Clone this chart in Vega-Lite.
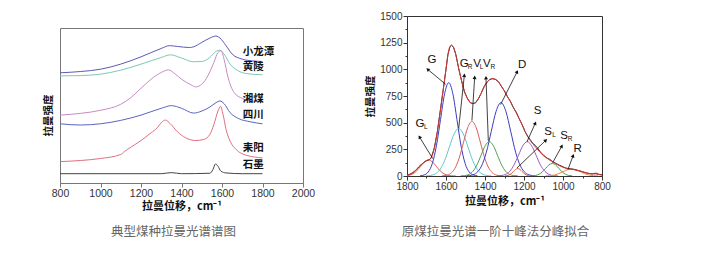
{
  "$schema": "https://vega.github.io/schema/vega-lite/v6.json",
  "background": "white",
  "padding": {"left": 42, "top": 10, "right": 5, "bottom": 5},
  "config": {
    "font": "Liberation Sans",
    "view": {"stroke": "transparent"},
    "axis": {
      "grid": false,
      "labelFlush": false,
      "labelOverlap": false,
      "domainColor": "#555",
      "tickColor": "#555",
      "labelFont": "Liberation Sans",
      "labelColor": "#333",
      "titleFont": "Noto Sans CJK SC",
      "titleColor": "#111",
      "titleFontWeight": "bold"
    }
  },
  "datasets": {
    "raman": [
      {"coal": "小龙潭", "shift": 800, "intensity": 71.1},
      {"coal": "小龙潭", "shift": 900, "intensity": 71.9},
      {"coal": "小龙潭", "shift": 1000, "intensity": 73.4},
      {"coal": "小龙潭", "shift": 1100, "intensity": 76.7},
      {"coal": "小龙潭", "shift": 1200, "intensity": 81.4},
      {"coal": "小龙潭", "shift": 1300, "intensity": 86.8},
      {"coal": "小龙潭", "shift": 1340, "intensity": 88.6},
      {"coal": "小龙潭", "shift": 1380, "intensity": 88.1},
      {"coal": "小龙潭", "shift": 1440, "intensity": 87.4},
      {"coal": "小龙潭", "shift": 1460, "intensity": 87.9},
      {"coal": "小龙潭", "shift": 1500, "intensity": 90.7},
      {"coal": "小龙潭", "shift": 1540, "intensity": 93.5},
      {"coal": "小龙潭", "shift": 1570, "intensity": 94.8},
      {"coal": "小龙潭", "shift": 1590, "intensity": 93.5},
      {"coal": "小龙潭", "shift": 1620, "intensity": 88.6},
      {"coal": "小龙潭", "shift": 1650, "intensity": 83.2},
      {"coal": "小龙潭", "shift": 1700, "intensity": 79.9},
      {"coal": "小龙潭", "shift": 1750, "intensity": 78.8},
      {"coal": "小龙潭", "shift": 1800, "intensity": 78.4},

      {"coal": "黄陵", "shift": 800, "intensity": 69.1},
      {"coal": "黄陵", "shift": 900, "intensity": 69.3},
      {"coal": "黄陵", "shift": 1000, "intensity": 70.2},
      {"coal": "黄陵", "shift": 1100, "intensity": 72.8},
      {"coal": "黄陵", "shift": 1200, "intensity": 76.7},
      {"coal": "黄陵", "shift": 1300, "intensity": 81.0},
      {"coal": "黄陵", "shift": 1345, "intensity": 82.7},
      {"coal": "黄陵", "shift": 1400, "intensity": 80.6},
      {"coal": "黄陵", "shift": 1460, "intensity": 78.2},
      {"coal": "黄陵", "shift": 1500, "intensity": 78.4},
      {"coal": "黄陵", "shift": 1540, "intensity": 81.0},
      {"coal": "黄陵", "shift": 1570, "intensity": 84.9},
      {"coal": "黄陵", "shift": 1590, "intensity": 85.7},
      {"coal": "黄陵", "shift": 1610, "intensity": 83.2},
      {"coal": "黄陵", "shift": 1640, "intensity": 76.7},
      {"coal": "黄陵", "shift": 1680, "intensity": 72.4},
      {"coal": "黄陵", "shift": 1720, "intensity": 70.6},
      {"coal": "黄陵", "shift": 1800, "intensity": 69.8},

      {"coal": "湘煤", "shift": 800, "intensity": 43.8},
      {"coal": "湘煤", "shift": 900, "intensity": 44.9},
      {"coal": "湘煤", "shift": 1000, "intensity": 46.9},
      {"coal": "湘煤", "shift": 1100, "intensity": 50.8},
      {"coal": "湘煤", "shift": 1150, "intensity": 55.1},
      {"coal": "湘煤", "shift": 1200, "intensity": 61.1},
      {"coal": "湘煤", "shift": 1250, "intensity": 67.0},
      {"coal": "湘煤", "shift": 1300, "intensity": 71.3},
      {"coal": "湘煤", "shift": 1335, "intensity": 73.0},
      {"coal": "湘煤", "shift": 1370, "intensity": 70.2},
      {"coal": "湘煤", "shift": 1400, "intensity": 67.0},
      {"coal": "湘煤", "shift": 1450, "intensity": 63.1},
      {"coal": "湘煤", "shift": 1470, "intensity": 62.0},
      {"coal": "湘煤", "shift": 1500, "intensity": 63.7},
      {"coal": "湘煤", "shift": 1530, "intensity": 69.1},
      {"coal": "湘煤", "shift": 1560, "intensity": 77.8},
      {"coal": "湘煤", "shift": 1580, "intensity": 84.2},
      {"coal": "湘煤", "shift": 1595, "intensity": 85.3},
      {"coal": "湘煤", "shift": 1610, "intensity": 79.9},
      {"coal": "湘煤", "shift": 1630, "intensity": 68.0},
      {"coal": "湘煤", "shift": 1660, "intensity": 58.3},
      {"coal": "湘煤", "shift": 1700, "intensity": 54.6},
      {"coal": "湘煤", "shift": 1750, "intensity": 52.9},
      {"coal": "湘煤", "shift": 1800, "intensity": 52.5},

      {"coal": "四川", "shift": 800, "intensity": 38.2},
      {"coal": "四川", "shift": 900, "intensity": 37.4},
      {"coal": "四川", "shift": 1000, "intensity": 38.2},
      {"coal": "四川", "shift": 1100, "intensity": 40.4},
      {"coal": "四川", "shift": 1200, "intensity": 43.8},
      {"coal": "四川", "shift": 1300, "intensity": 48.2},
      {"coal": "四川", "shift": 1350, "intensity": 49.9},
      {"coal": "四川", "shift": 1400, "intensity": 48.2},
      {"coal": "四川", "shift": 1460, "intensity": 45.1},
      {"coal": "四川", "shift": 1500, "intensity": 46.4},
      {"coal": "四川", "shift": 1540, "intensity": 49.0},
      {"coal": "四川", "shift": 1570, "intensity": 51.8},
      {"coal": "四川", "shift": 1590, "intensity": 52.9},
      {"coal": "四川", "shift": 1610, "intensity": 51.2},
      {"coal": "四川", "shift": 1640, "intensity": 45.4},
      {"coal": "四川", "shift": 1680, "intensity": 41.7},
      {"coal": "四川", "shift": 1740, "intensity": 39.5},
      {"coal": "四川", "shift": 1800, "intensity": 38.2},

      {"coal": "耒阳", "shift": 800, "intensity": 13.8},
      {"coal": "耒阳", "shift": 900, "intensity": 14.5},
      {"coal": "耒阳", "shift": 1000, "intensity": 15.8},
      {"coal": "耒阳", "shift": 1100, "intensity": 18.4},
      {"coal": "耒阳", "shift": 1120, "intensity": 20.5},
      {"coal": "耒阳", "shift": 1150, "intensity": 23.1},
      {"coal": "耒阳", "shift": 1200, "intensity": 27.4},
      {"coal": "耒阳", "shift": 1250, "intensity": 32.4},
      {"coal": "耒阳", "shift": 1280, "intensity": 35.6},
      {"coal": "耒阳", "shift": 1300, "intensity": 38.9},
      {"coal": "耒阳", "shift": 1320, "intensity": 40.6},
      {"coal": "耒阳", "shift": 1345, "intensity": 38.2},
      {"coal": "耒阳", "shift": 1380, "intensity": 33.0},
      {"coal": "耒阳", "shift": 1420, "intensity": 29.2},
      {"coal": "耒阳", "shift": 1470, "intensity": 27.4},
      {"coal": "耒阳", "shift": 1510, "intensity": 28.1},
      {"coal": "耒阳", "shift": 1540, "intensity": 31.3},
      {"coal": "耒阳", "shift": 1560, "intensity": 37.8},
      {"coal": "耒阳", "shift": 1580, "intensity": 46.4},
      {"coal": "耒阳", "shift": 1593, "intensity": 49.5},
      {"coal": "耒阳", "shift": 1605, "intensity": 44.3},
      {"coal": "耒阳", "shift": 1620, "intensity": 34.6},
      {"coal": "耒阳", "shift": 1640, "intensity": 27.0},
      {"coal": "耒阳", "shift": 1670, "intensity": 21.6},
      {"coal": "耒阳", "shift": 1720, "intensity": 17.9},
      {"coal": "耒阳", "shift": 1800, "intensity": 16.2},

      {"coal": "石墨", "shift": 800, "intensity": 6.0},
      {"coal": "石墨", "shift": 1300, "intensity": 6.0},
      {"coal": "石墨", "shift": 1350, "intensity": 6.7},
      {"coal": "石墨", "shift": 1400, "intensity": 6.0},
      {"coal": "石墨", "shift": 1540, "intensity": 6.3},
      {"coal": "石墨", "shift": 1555, "intensity": 8.6},
      {"coal": "石墨", "shift": 1568, "intensity": 12.3},
      {"coal": "石墨", "shift": 1580, "intensity": 10.8},
      {"coal": "石墨", "shift": 1595, "intensity": 7.6},
      {"coal": "石墨", "shift": 1620, "intensity": 6.5},
      {"coal": "石墨", "shift": 1700, "intensity": 6.0},
      {"coal": "石墨", "shift": 1800, "intensity": 6.0}
    ],
    "coalLabels": [
      {"coal": "小龙潭", "shift": 1702, "intensity": 84.3},
      {"coal": "黄陵", "shift": 1702, "intensity": 74.6},
      {"coal": "湘煤", "shift": 1702, "intensity": 54.2},
      {"coal": "四川", "shift": 1702, "intensity": 43.9},
      {"coal": "耒阳", "shift": 1702, "intensity": 22.6},
      {"coal": "石墨", "shift": 1702, "intensity": 11.6}
    ],
    "bands": [
      {"band": "GL", "shift": 1550, "intensity": 0.2},
      {"band": "GL", "shift": 1570, "intensity": 1.7},
      {"band": "GL", "shift": 1590, "intensity": 6.6},
      {"band": "GL", "shift": 1610, "intensity": 20.3},
      {"band": "GL", "shift": 1630, "intensity": 48.7},
      {"band": "GL", "shift": 1650, "intensity": 91.0},
      {"band": "GL", "shift": 1670, "intensity": 132.4},
      {"band": "GL", "shift": 1690, "intensity": 150},
      {"band": "GL", "shift": 1710, "intensity": 132.4},
      {"band": "GL", "shift": 1730, "intensity": 91.0},
      {"band": "GL", "shift": 1750, "intensity": 48.7},
      {"band": "GL", "shift": 1770, "intensity": 20.3},
      {"band": "GL", "shift": 1790, "intensity": 6.6},
      {"band": "GL", "shift": 1800, "intensity": 3.4},

      {"band": "G", "shift": 1439, "intensity": 1.9},
      {"band": "G", "shift": 1460, "intensity": 9.7},
      {"band": "G", "shift": 1481, "intensity": 38},
      {"band": "G", "shift": 1502, "intensity": 118},
      {"band": "G", "shift": 1523, "intensity": 284},
      {"band": "G", "shift": 1544, "intensity": 531},
      {"band": "G", "shift": 1565, "intensity": 772},
      {"band": "G", "shift": 1586, "intensity": 875},
      {"band": "G", "shift": 1607, "intensity": 772},
      {"band": "G", "shift": 1628, "intensity": 531},
      {"band": "G", "shift": 1649, "intensity": 284},
      {"band": "G", "shift": 1670, "intensity": 118},
      {"band": "G", "shift": 1691, "intensity": 38},
      {"band": "G", "shift": 1712, "intensity": 9.7},
      {"band": "G", "shift": 1733, "intensity": 1.9},

      {"band": "GR", "shift": 1367, "intensity": 1.0},
      {"band": "GR", "shift": 1391, "intensity": 4.9},
      {"band": "GR", "shift": 1415, "intensity": 19.5},
      {"band": "GR", "shift": 1439, "intensity": 60.2},
      {"band": "GR", "shift": 1463, "intensity": 144.5},
      {"band": "GR", "shift": 1487, "intensity": 270},
      {"band": "GR", "shift": 1511, "intensity": 393},
      {"band": "GR", "shift": 1535, "intensity": 445},
      {"band": "GR", "shift": 1559, "intensity": 393},
      {"band": "GR", "shift": 1583, "intensity": 270},
      {"band": "GR", "shift": 1607, "intensity": 144.5},
      {"band": "GR", "shift": 1631, "intensity": 60.2},
      {"band": "GR", "shift": 1655, "intensity": 19.5},
      {"band": "GR", "shift": 1679, "intensity": 4.9},
      {"band": "GR", "shift": 1703, "intensity": 1.0},

      {"band": "VL", "shift": 1313, "intensity": 1.1},
      {"band": "VL", "shift": 1335, "intensity": 5.7},
      {"band": "VL", "shift": 1357, "intensity": 22.5},
      {"band": "VL", "shift": 1379, "intensity": 69.3},
      {"band": "VL", "shift": 1401, "intensity": 166},
      {"band": "VL", "shift": 1423, "intensity": 310.5},
      {"band": "VL", "shift": 1445, "intensity": 452},
      {"band": "VL", "shift": 1467, "intensity": 512},
      {"band": "VL", "shift": 1489, "intensity": 452},
      {"band": "VL", "shift": 1511, "intensity": 310.5},
      {"band": "VL", "shift": 1533, "intensity": 166},
      {"band": "VL", "shift": 1555, "intensity": 69.3},
      {"band": "VL", "shift": 1577, "intensity": 22.5},
      {"band": "VL", "shift": 1599, "intensity": 5.7},
      {"band": "VL", "shift": 1621, "intensity": 1.1},

      {"band": "VR", "shift": 1231, "intensity": 0.7},
      {"band": "VR", "shift": 1252, "intensity": 3.6},
      {"band": "VR", "shift": 1273, "intensity": 14.1},
      {"band": "VR", "shift": 1294, "intensity": 43.6},
      {"band": "VR", "shift": 1315, "intensity": 104.6},
      {"band": "VR", "shift": 1336, "intensity": 195},
      {"band": "VR", "shift": 1357, "intensity": 284},
      {"band": "VR", "shift": 1378, "intensity": 322},
      {"band": "VR", "shift": 1399, "intensity": 284},
      {"band": "VR", "shift": 1420, "intensity": 195},
      {"band": "VR", "shift": 1441, "intensity": 104.6},
      {"band": "VR", "shift": 1462, "intensity": 43.6},
      {"band": "VR", "shift": 1483, "intensity": 14.1},
      {"band": "VR", "shift": 1504, "intensity": 3.6},
      {"band": "VR", "shift": 1525, "intensity": 0.7},

      {"band": "D", "shift": 1143, "intensity": 1.5},
      {"band": "D", "shift": 1168, "intensity": 7.6},
      {"band": "D", "shift": 1193, "intensity": 30.2},
      {"band": "D", "shift": 1218, "intensity": 93.1},
      {"band": "D", "shift": 1243, "intensity": 223},
      {"band": "D", "shift": 1268, "intensity": 417},
      {"band": "D", "shift": 1293, "intensity": 607},
      {"band": "D", "shift": 1318, "intensity": 688},
      {"band": "D", "shift": 1343, "intensity": 607},
      {"band": "D", "shift": 1368, "intensity": 417},
      {"band": "D", "shift": 1393, "intensity": 223},
      {"band": "D", "shift": 1418, "intensity": 93.1},
      {"band": "D", "shift": 1443, "intensity": 30.2},
      {"band": "D", "shift": 1468, "intensity": 7.6},
      {"band": "D", "shift": 1493, "intensity": 1.5},

      {"band": "SL", "shift": 1166, "intensity": 0.8},
      {"band": "SL", "shift": 1177, "intensity": 3.1},
      {"band": "SL", "shift": 1188, "intensity": 9.5},
      {"band": "SL", "shift": 1199, "intensity": 22.7},
      {"band": "SL", "shift": 1210, "intensity": 42.5},
      {"band": "SL", "shift": 1221, "intensity": 61.8},
      {"band": "SL", "shift": 1232, "intensity": 70},
      {"band": "SL", "shift": 1243, "intensity": 61.8},
      {"band": "SL", "shift": 1254, "intensity": 42.5},
      {"band": "SL", "shift": 1265, "intensity": 22.7},
      {"band": "SL", "shift": 1276, "intensity": 9.5},
      {"band": "SL", "shift": 1287, "intensity": 3.1},
      {"band": "SL", "shift": 1298, "intensity": 0.8},

      {"band": "S", "shift": 1026, "intensity": 0.7},
      {"band": "S", "shift": 1048, "intensity": 3.6},
      {"band": "S", "shift": 1071, "intensity": 14.1},
      {"band": "S", "shift": 1093, "intensity": 43.6},
      {"band": "S", "shift": 1116, "intensity": 104.6},
      {"band": "S", "shift": 1138, "intensity": 195},
      {"band": "S", "shift": 1161, "intensity": 284},
      {"band": "S", "shift": 1183, "intensity": 322},
      {"band": "S", "shift": 1206, "intensity": 284},
      {"band": "S", "shift": 1228, "intensity": 195},
      {"band": "S", "shift": 1251, "intensity": 104.6},
      {"band": "S", "shift": 1273, "intensity": 43.6},
      {"band": "S", "shift": 1296, "intensity": 14.1},
      {"band": "S", "shift": 1318, "intensity": 3.6},
      {"band": "S", "shift": 1341, "intensity": 0.7},

      {"band": "SR", "shift": 953, "intensity": 1.3},
      {"band": "SR", "shift": 970, "intensity": 5.2},
      {"band": "SR", "shift": 987, "intensity": 16},
      {"band": "SR", "shift": 1004, "intensity": 38.3},
      {"band": "SR", "shift": 1021, "intensity": 71.6},
      {"band": "SR", "shift": 1038, "intensity": 104.1},
      {"band": "SR", "shift": 1055, "intensity": 118},
      {"band": "SR", "shift": 1072, "intensity": 104.1},
      {"band": "SR", "shift": 1089, "intensity": 71.6},
      {"band": "SR", "shift": 1106, "intensity": 38.3},
      {"band": "SR", "shift": 1123, "intensity": 16},
      {"band": "SR", "shift": 1140, "intensity": 5.2},
      {"band": "SR", "shift": 1157, "intensity": 1.3},

      {"band": "R", "shift": 820, "intensity": 0.7},
      {"band": "R", "shift": 843, "intensity": 2.9},
      {"band": "R", "shift": 865, "intensity": 8.9},
      {"band": "R", "shift": 888, "intensity": 21.4},
      {"band": "R", "shift": 910, "intensity": 40},
      {"band": "R", "shift": 933, "intensity": 58.2},
      {"band": "R", "shift": 955, "intensity": 66},
      {"band": "R", "shift": 978, "intensity": 58.2},
      {"band": "R", "shift": 1000, "intensity": 40},
      {"band": "R", "shift": 1023, "intensity": 21.4},
      {"band": "R", "shift": 1045, "intensity": 8.9},
      {"band": "R", "shift": 1068, "intensity": 2.9},
      {"band": "R", "shift": 1090, "intensity": 0.7}
    ],
    "measured": [
      {"shift": 1800, "intensity": 14}, {"shift": 1790, "intensity": 12}, {"shift": 1780, "intensity": 22},
      {"shift": 1770, "intensity": 32}, {"shift": 1760, "intensity": 46}, {"shift": 1750, "intensity": 62},
      {"shift": 1740, "intensity": 84}, {"shift": 1730, "intensity": 102}, {"shift": 1720, "intensity": 118},
      {"shift": 1710, "intensity": 132}, {"shift": 1700, "intensity": 143}, {"shift": 1690, "intensity": 150},
      {"shift": 1680, "intensity": 160}, {"shift": 1675, "intensity": 175}, {"shift": 1660, "intensity": 262},
      {"shift": 1645, "intensity": 408}, {"shift": 1630, "intensity": 602}, {"shift": 1615, "intensity": 798},
      {"shift": 1600, "intensity": 1002}, {"shift": 1590, "intensity": 1138}, {"shift": 1580, "intensity": 1212},
      {"shift": 1572, "intensity": 1226}, {"shift": 1562, "intensity": 1208}, {"shift": 1550, "intensity": 1142},
      {"shift": 1535, "intensity": 1008}, {"shift": 1520, "intensity": 892}, {"shift": 1505, "intensity": 788},
      {"shift": 1490, "intensity": 727}, {"shift": 1475, "intensity": 686}, {"shift": 1462, "intensity": 680},
      {"shift": 1450, "intensity": 684}, {"shift": 1435, "intensity": 722}, {"shift": 1420, "intensity": 773},
      {"shift": 1405, "intensity": 837}, {"shift": 1390, "intensity": 879}, {"shift": 1375, "intensity": 906},
      {"shift": 1360, "intensity": 913}, {"shift": 1345, "intensity": 904}, {"shift": 1330, "intensity": 882},
      {"shift": 1315, "intensity": 838}, {"shift": 1300, "intensity": 797}, {"shift": 1285, "intensity": 743},
      {"shift": 1270, "intensity": 701}, {"shift": 1255, "intensity": 643}, {"shift": 1240, "intensity": 598},
      {"shift": 1225, "intensity": 537}, {"shift": 1210, "intensity": 484}, {"shift": 1195, "intensity": 418},
      {"shift": 1180, "intensity": 370}, {"shift": 1170, "intensity": 345}, {"shift": 1160, "intensity": 318},
      {"shift": 1150, "intensity": 300}, {"shift": 1140, "intensity": 280}, {"shift": 1130, "intensity": 262},
      {"shift": 1120, "intensity": 235}, {"shift": 1110, "intensity": 212}, {"shift": 1100, "intensity": 196},
      {"shift": 1090, "intensity": 180}, {"shift": 1080, "intensity": 166}, {"shift": 1070, "intensity": 158},
      {"shift": 1060, "intensity": 146}, {"shift": 1050, "intensity": 130}, {"shift": 1040, "intensity": 122},
      {"shift": 1030, "intensity": 112}, {"shift": 1020, "intensity": 102}, {"shift": 1010, "intensity": 95},
      {"shift": 1000, "intensity": 86}, {"shift": 990, "intensity": 78}, {"shift": 980, "intensity": 72},
      {"shift": 970, "intensity": 70}, {"shift": 960, "intensity": 66}, {"shift": 950, "intensity": 64},
      {"shift": 940, "intensity": 60}, {"shift": 930, "intensity": 56}, {"shift": 920, "intensity": 50},
      {"shift": 910, "intensity": 46}, {"shift": 900, "intensity": 40}, {"shift": 890, "intensity": 34},
      {"shift": 880, "intensity": 30}, {"shift": 870, "intensity": 25}, {"shift": 860, "intensity": 22},
      {"shift": 850, "intensity": 20}, {"shift": 840, "intensity": 24}, {"shift": 830, "intensity": 26},
      {"shift": 820, "intensity": 18}, {"shift": 810, "intensity": 14}, {"shift": 800, "intensity": 12}
    ],
    "fit": [
      {"shift": 1800, "intensity": 8}, {"shift": 1780, "intensity": 20}, {"shift": 1760, "intensity": 45},
      {"shift": 1740, "intensity": 85}, {"shift": 1720, "intensity": 118}, {"shift": 1700, "intensity": 145},
      {"shift": 1690, "intensity": 150}, {"shift": 1675, "intensity": 175}, {"shift": 1660, "intensity": 260},
      {"shift": 1645, "intensity": 410}, {"shift": 1630, "intensity": 600}, {"shift": 1615, "intensity": 800},
      {"shift": 1600, "intensity": 1000}, {"shift": 1590, "intensity": 1140}, {"shift": 1580, "intensity": 1210},
      {"shift": 1572, "intensity": 1225}, {"shift": 1562, "intensity": 1210}, {"shift": 1550, "intensity": 1140},
      {"shift": 1535, "intensity": 1010}, {"shift": 1520, "intensity": 890}, {"shift": 1505, "intensity": 790},
      {"shift": 1490, "intensity": 725}, {"shift": 1475, "intensity": 688}, {"shift": 1462, "intensity": 678},
      {"shift": 1450, "intensity": 685}, {"shift": 1435, "intensity": 720}, {"shift": 1420, "intensity": 775},
      {"shift": 1405, "intensity": 835}, {"shift": 1390, "intensity": 880}, {"shift": 1375, "intensity": 905},
      {"shift": 1360, "intensity": 912}, {"shift": 1345, "intensity": 905}, {"shift": 1330, "intensity": 880},
      {"shift": 1315, "intensity": 840}, {"shift": 1300, "intensity": 795}, {"shift": 1285, "intensity": 745},
      {"shift": 1270, "intensity": 698}, {"shift": 1255, "intensity": 645}, {"shift": 1240, "intensity": 595},
      {"shift": 1225, "intensity": 540}, {"shift": 1210, "intensity": 480}, {"shift": 1195, "intensity": 420},
      {"shift": 1180, "intensity": 365}, {"shift": 1165, "intensity": 325}, {"shift": 1150, "intensity": 292},
      {"shift": 1135, "intensity": 258}, {"shift": 1120, "intensity": 228}, {"shift": 1105, "intensity": 198},
      {"shift": 1090, "intensity": 176}, {"shift": 1075, "intensity": 157}, {"shift": 1060, "intensity": 140},
      {"shift": 1045, "intensity": 124}, {"shift": 1030, "intensity": 108}, {"shift": 1015, "intensity": 94},
      {"shift": 1000, "intensity": 82}, {"shift": 985, "intensity": 72}, {"shift": 970, "intensity": 66},
      {"shift": 955, "intensity": 63}, {"shift": 940, "intensity": 58}, {"shift": 925, "intensity": 52},
      {"shift": 910, "intensity": 45}, {"shift": 895, "intensity": 37}, {"shift": 880, "intensity": 29},
      {"shift": 865, "intensity": 23}, {"shift": 850, "intensity": 19}, {"shift": 835, "intensity": 20},
      {"shift": 820, "intensity": 15}, {"shift": 805, "intensity": 10}, {"shift": 800, "intensity": 8}
    ],
    "arrows": [
      {"band": "GL", "shift": 1668, "intensity": 163, "tipShift": 1736, "tipIntensity": 366, "heading": 328},
      {"band": "G", "shift": 1602, "intensity": 860, "tipShift": 1694, "tipIntensity": 1000, "heading": 310},
      {"band": "GR", "shift": 1535, "intensity": 446, "tipShift": 1506, "tipIntensity": 944, "heading": 6},
      {"band": "VL", "shift": 1467, "intensity": 520, "tipShift": 1453, "tipIntensity": 925, "heading": 4},
      {"band": "VR", "shift": 1383, "intensity": 330, "tipShift": 1395, "tipIntensity": 922, "heading": 358},
      {"band": "D", "shift": 1320, "intensity": 670, "tipShift": 1235, "tipIntensity": 978, "heading": 27},
      {"band": "S", "shift": 1185, "intensity": 320, "tipShift": 1142, "tipIntensity": 495, "heading": 24},
      {"band": "SL", "shift": 1236, "intensity": 75, "tipShift": 1088, "tipIntensity": 335, "heading": 46},
      {"band": "SR", "shift": 1053, "intensity": 125, "tipShift": 1006, "tipIntensity": 280, "heading": 29},
      {"band": "R", "shift": 975, "intensity": 60, "tipShift": 948, "tipIntensity": 190, "heading": 21}
    ],
    "bandLetters": [
      {"text": "G", "shift": 1733, "intensity": 485},
      {"text": "G", "shift": 1672, "intensity": 1091},
      {"text": "G", "shift": 1506, "intensity": 1054},
      {"text": "V", "shift": 1441, "intensity": 1054},
      {"text": "V", "shift": 1391, "intensity": 1054},
      {"text": "D", "shift": 1210, "intensity": 1038},
      {"text": "S", "shift": 1130, "intensity": 607},
      {"text": "S", "shift": 1076, "intensity": 412},
      {"text": "S", "shift": 995, "intensity": 378},
      {"text": "R", "shift": 925, "intensity": 255}
    ],
    "bandSubscripts": [
      {"text": "L", "shift": 1704, "intensity": 460},
      {"text": "R", "shift": 1477, "intensity": 1025},
      {"text": "L", "shift": 1417, "intensity": 1025},
      {"text": "R", "shift": 1360, "intensity": 1025},
      {"text": "L", "shift": 1046, "intensity": 385},
      {"text": "R", "shift": 964, "intensity": 350}
    ]
  },
  "spacing": 48,
  "resolve": {"scale": {"color": "independent"}},
  "hconcat": [
    {
      "spacing": 0,
      "vconcat": [
        {
          "width": 243,
          "height": 11,
          "view": {"stroke": "transparent", "strokeWidth": 0},
          "data": {"values": [{}]},
          "mark": {"type": "point", "opacity": 0},
          "encoding": {}
        },
        {
          "width": 243,
          "height": 155,
          "view": {"stroke": "#777"},
          "title": {
            "text": "典型煤种拉曼光谱谱图",
            "orient": "bottom",
            "anchor": "middle",
            "font": "Noto Sans CJK SC",
            "fontSize": 12.5,
            "fontWeight": "normal",
            "color": "#666",
            "offset": 14,
            "dx": -8
          },
          "layer": [
            {
              "data": {"name": "raman"},
              "mark": {"type": "line", "interpolate": "monotone", "strokeWidth": 1},
              "encoding": {
                "x": {
                  "field": "shift", "type": "quantitative",
                  "scale": {"domain": [800, 2000], "nice": false},
                  "axis": {
                    "values": [800, 900, 1000, 1100, 1200, 1300, 1400, 1500, 1600, 1700, 1800, 1900, 2000],
                    "labelExpr": "datum.value % 200 === 0 ? datum.label : ''",
                    "format": "d",
                    "tickSize": {"condition": {"test": "datum.value % 200 === 0", "value": 4}, "value": 2},
                    "labelFontSize": 10.5,
                    "labelPadding": 1,
                    "domainColor": "#777",
                    "tickColor": "#777",
                    "title": "拉曼位移，cm⁻¹",
                    "titleFontSize": 11,
                    "titlePadding": 2
                  }
                },
                "y": {
                  "field": "intensity", "type": "quantitative",
                  "scale": {"domain": [0, 100], "nice": false},
                  "axis": {
                    "labels": false, "ticks": false, "domain": false,
                    "title": "拉曼强度",
                    "titleFontSize": 10.5,
                    "titleBaseline": "middle",
                    "titleX": -12,
                    "titleY": 87
                  }
                },
                "color": {
                  "field": "coal", "type": "nominal",
                  "scale": {
                    "domain": ["小龙潭", "黄陵", "湘煤", "四川", "耒阳", "石墨"],
                    "range": ["#5a5ab4", "#7cc8b8", "#c98ac8", "#5a64c0", "#e07080", "#444444"]
                  },
                  "legend": null
                }
              }
            },
            {
              "data": {"name": "coalLabels"},
              "mark": {"type": "text", "align": "left", "baseline": "middle", "font": "Noto Sans CJK SC", "fontSize": 10.5, "fontWeight": "bold", "color": "#111"},
              "encoding": {
                "x": {"field": "shift", "type": "quantitative"},
                "y": {"field": "intensity", "type": "quantitative"},
                "text": {"field": "coal"}
              }
            }
          ]
        }
      ]
    },
    {
      "width": 195,
      "height": 160,
      "view": {"stroke": "#333"},
      "title": {
        "text": "原煤拉曼光谱一阶十峰法分峰拟合",
        "orient": "bottom",
        "anchor": "middle",
        "font": "Noto Sans CJK SC",
        "fontSize": 12.5,
        "fontWeight": "normal",
        "color": "#666",
        "offset": 20,
        "dx": -9
      },
      "encoding": {
        "x": {
          "field": "shift", "type": "quantitative",
          "scale": {"domain": [800, 1800], "reverse": true, "nice": false},
          "axis": {
            "values": [800, 900, 1000, 1100, 1200, 1300, 1400, 1500, 1600, 1700, 1800],
            "labelExpr": "datum.value % 200 === 0 ? datum.label : ''",
            "format": "d",
            "tickSize": {"condition": {"test": "datum.value % 200 === 0", "value": 4}, "value": 2},
            "labelFontSize": 10,
            "labelPadding": 1,
            "domainColor": "#333",
            "tickColor": "#333",
            "title": "拉曼位移，cm⁻¹",
            "titleFontSize": 11,
            "titlePadding": 4
          }
        },
        "y": {
          "field": "intensity", "type": "quantitative",
          "scale": {"domain": [0, 1500], "nice": false},
          "axis": {
            "values": [0, 125, 250, 375, 500, 625, 750, 875, 1000, 1125, 1250, 1375, 1500],
            "labelExpr": "datum.value % 250 === 0 ? datum.label : ''",
            "format": "d",
            "tickSize": {"condition": {"test": "datum.value % 250 === 0", "value": 4}, "value": 2},
            "labelFontSize": 10,
            "labelPadding": 1,
            "domainColor": "#333",
            "tickColor": "#333",
            "title": "拉曼强度",
            "titleFontSize": 10.5,
            "titleBaseline": "middle",
            "titleX": -37,
            "titleY": 80
          }
        }
      },
      "layer": [
        {
          "data": {"name": "bands"},
          "mark": {"type": "line", "interpolate": "monotone", "strokeWidth": 1, "clip": true},
          "encoding": {
            "detail": {"field": "band"},
            "color": {
              "field": "band", "type": "nominal",
              "scale": {
                "domain": ["GL", "G", "GR", "VL", "VR", "D", "SL", "S", "SR", "R"],
                "range": ["#e05a5a", "#3c3cc0", "#5cc8d0", "#e05a5a", "#4aa04a", "#3c3cc0", "#e0603a", "#a05ac0", "#4aa04a", "#f08a3a"]
              },
              "legend": null
            }
          }
        },
        {
          "data": {"name": "measured"},
          "mark": {"type": "line", "strokeWidth": 1, "color": "#222", "clip": true},
          "encoding": {}
        },
        {
          "data": {"name": "fit"},
          "mark": {"type": "line", "interpolate": "monotone", "strokeWidth": 1, "color": "#d83838", "clip": true},
          "encoding": {}
        },
        {
          "data": {"name": "arrows"},
          "mark": {"type": "rule", "strokeWidth": 0.8, "color": "#111"},
          "encoding": {
            "x2": {"field": "tipShift"},
            "y2": {"field": "tipIntensity"}
          }
        },
        {
          "data": {"name": "arrows"},
          "mark": {"type": "point", "shape": "triangle-up", "filled": true, "size": 16, "opacity": 1, "color": "#111"},
          "encoding": {
            "x": {"field": "tipShift", "type": "quantitative"},
            "y": {"field": "tipIntensity", "type": "quantitative"},
            "angle": {"field": "heading", "type": "quantitative", "scale": null}
          }
        },
        {
          "data": {"name": "bandLetters"},
          "mark": {"type": "text", "font": "Liberation Sans", "fontSize": 11.5, "color": "#111", "align": "center", "baseline": "middle"},
          "encoding": {"text": {"field": "text"}}
        },
        {
          "data": {"name": "bandSubscripts"},
          "mark": {"type": "text", "font": "Liberation Sans", "fontSize": 6.5, "color": "#111", "align": "center", "baseline": "middle"},
          "encoding": {"text": {"field": "text"}}
        }
      ]
    }
  ]
}
